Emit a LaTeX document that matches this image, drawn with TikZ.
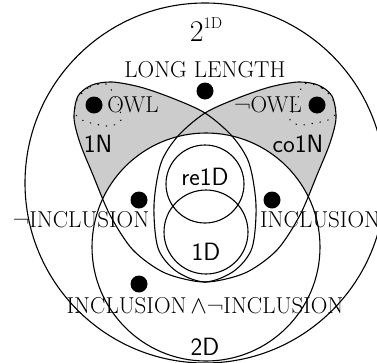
\documentclass[tikz,border=0pt]{standalone}
\usepackage{fontspec}
\definecolor{leafgray}{gray}{0.8}
\tikzset{
  edge/.style={line width=1.1pt},
  sparsedots/.style={line width=1.1pt, line cap=round, dash pattern=on 0.6pt off 7.5pt},
  blob/.style={fill=black},
  serlab/.style={font=\fontsize{23}{27}\selectfont, inner sep=0pt, anchor=base},
  sanslab/.style={font=\sffamily\fontsize{25}{30}\selectfont, inner sep=0pt, anchor=base},
}
\begin{document}
\begin{tikzpicture}[x=1pt,y=-1pt]
\useasboundingbox (0,0) rectangle (377,362);
\clip (0,0) rectangle (377,362);
\def\leafN{(205,282) (165,273) (133,250) (110,215) (93,175) (80,143) (74,118) (78,96) (92,85) (112,82) (140,87) (172,98) (205,113) (232,136) (249,163) (256,205) (252,248) (234,271)}
\def\leafC{(205,282) (245,273) (277,250) (300,215) (317,175) (330,143) (336,118) (332,96) (318,85) (298,82) (270,87) (238,98) (205,113) (178,136) (161,163) (154,205) (158,248) (176,271)}
% gray leaves
\fill[leafgray] plot[smooth cycle] coordinates {\leafN};
\fill[leafgray] plot[smooth cycle] coordinates {\leafC};
% outer circle 2^1D
\draw[edge] (205,183) circle (180);
% 2D circle
\filldraw[edge, fill=white] (206,247) circle (114);
% leaf outlines
\draw[edge] plot[smooth cycle] coordinates {\leafN};
\draw[edge] plot[smooth cycle] coordinates {\leafC};
% re1D and 1D
\draw[edge] (205,184) circle (39);
\draw[edge] (206,232) circle (42);
% dotted curves
\draw[sparsedots] plot[smooth cycle] coordinates {(106,84) (88,88) (77,100) (75,113) (82,120) (95,124) (110,126) (121,120) (117,101)};
\draw[sparsedots] plot[smooth cycle] coordinates {(304,84) (322,88) (333,100) (336,113) (328,120) (315,123) (300,125) (290,120) (296,104)};
% dots
\fill[blob] (205,91) circle (8.5);
\fill[blob] (94,105) circle (8.5);
\fill[blob] (317,105) circle (8.5);
\fill[blob] (139,200) circle (8.5);
\fill[blob] (272,200) circle (8.5);
\fill[blob] (139,284) circle (8.5);
% labels
\node[serlab, font=\fontsize{30}{34}\selectfont] (tpow) at (206,41) {2\raisebox{13pt}{\fontsize{16}{18}\selectfont 1D}};
\node[serlab] (longlen) at (205,77) {LONG LENGTH};
\node[serlab] (owl) at (133,112) {OWL};
\node[serlab] (nowl) at (268,112) {¬OWL};
\node[sanslab] (oneN) at (98,152) {1N};
\node[sanslab] (coN) at (298,152) {co1N};
\node[sanslab] (reD) at (205,185) {re1D};
\node[sanslab] (oneD) at (206,260) {1D};
\node[serlab] (ninc) at (81,227) {¬INCLUSION};
\node[serlab, anchor=base west] (inc) at (260,227) {INCLUSION};
\node[serlab] (both) at (205,313) {INCLUSION\,$\wedge$¬INCLUSION};
\node[sanslab] (twoD) at (205,355) {2D};
\end{tikzpicture}
\end{document}
